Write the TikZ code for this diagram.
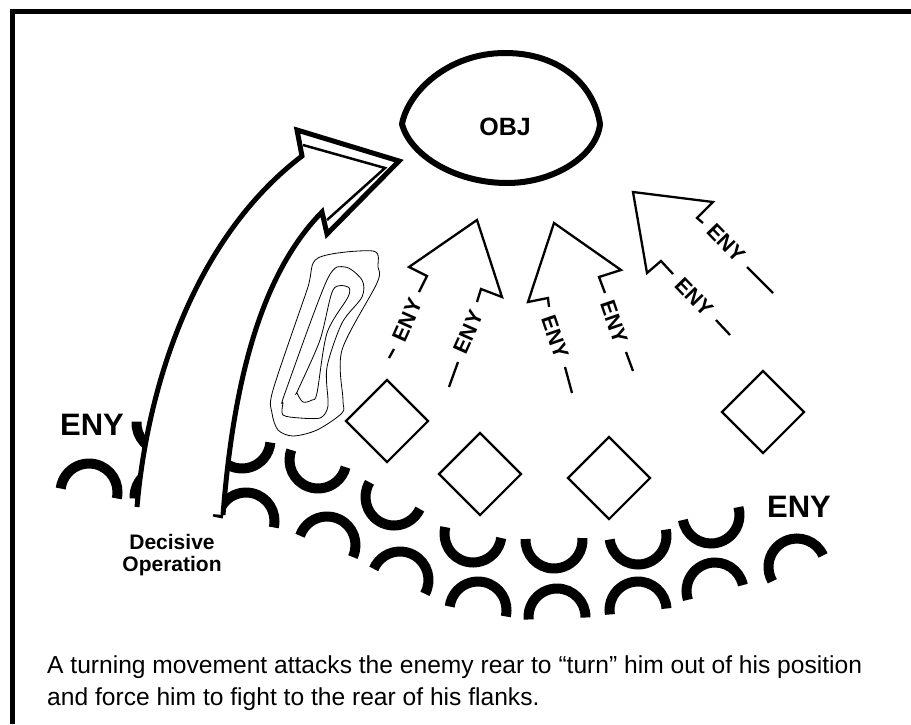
\documentclass[tikz,border=0pt]{standalone}
\usepackage{fontspec}
\setmainfont{Liberation Sans}
\usepackage{tikz}
\usetikzlibrary{positioning}
\usetikzlibrary{shapes.geometric}

\tikzset{
    enyline/.style={draw=black, line width=10pt, line cap=butt},
    enyarc/.pic={\draw[enyline, x=1pt, y=1pt] (-3:28.5) arc[start angle=-3, end angle=183, radius=28.5];},
    enyword/.style={font=\bfseries\fontsize{31}{31}\selectfont, inner sep=0pt},
    enylabel/.style={font=\bfseries\fontsize{21.5}{21.5}\selectfont, inner sep=0pt},
    position/.style={diamond, draw=black, line width=2.2pt, minimum width=83pt, minimum height=83pt, inner sep=0pt, on grid},
    thrust/.style={draw=black, line width=2.3pt, line join=miter},
    contour/.style={draw=black, line width=0.8pt},
}

\begin{document}
\begin{tikzpicture}[x=1pt, y=-1pt]
    \useasboundingbox (0,0) rectangle (911,724);

    % Define frame
    \draw[line width=5pt] (12.5,724) -- (12.5,11) -- (911,11);

    % Define enemy arcs
    \pic[rotate=-10] at (89,492) {enyarc};
    \pic[rotate=180] at (165,423) {enyarc};
    \pic at (163,497) {enyarc};
    \pic[rotate=172] at (242,440) {enyarc};
    \pic[rotate=-10] at (246,521) {enyarc};
    \pic[rotate=162.5] at (318,460) {enyarc};
    \pic[rotate=-22] at (327,545) {enyarc};
    \pic[rotate=152] at (394,497) {enyarc};
    \pic[rotate=-26] at (400,580) {enyarc};
    \pic[rotate=169] at (473,534) {enyarc};
    \pic[rotate=-10] at (478,610) {enyarc};
    \pic[rotate=181] at (554,540) {enyarc};
    \pic[rotate=2] at (557,617) {enyarc};
    \pic[rotate=190] at (638,536) {enyarc};
    \pic[rotate=6] at (638,610) {enyarc};
    \pic[rotate=193] at (711,515) {enyarc};
    \pic[rotate=15] at (715,591) {enyarc};
    \pic[rotate=27] at (797,567) {enyarc};

    % Decisive operation arrow
    \draw[fill=white, line width=5pt, line join=miter]
        (137,507) .. controls (147,390) and (192,240) .. (302,156)
        -- (297,130) -- (399,161) -- (327,234) -- (322,212)
        .. controls (255,280) and (232,400) .. (223,515);
    \draw[line width=2.5pt, line join=miter] (303,145) -- (385,168) -- (327,220);

    % Objective
    \node[font=\bfseries\fontsize{25}{25}\selectfont, inner sep=0pt] (obj) at (505,127) {OBJ};
    \draw[line width=6pt] (402,124) .. controls (408,92) and (448,53) .. (505,53)
        .. controls (560,53) and (594,85) .. (600,124)
        .. controls (597,155) and (555,183) .. (507,183)
        .. controls (455,183) and (410,155) .. (402,124) -- cycle;

    % Hill contours
    \draw[contour] plot[smooth cycle, tension=0.5] coordinates {
        (318,258) (373,251) (378,267) (377,283) (342,350) (343,400) (342,413)
        (317,430) (293,436) (278,430) (272,413) (273,390) (307,290)};
    \draw[contour] plot[smooth cycle, tension=0.5] coordinates {
        (327,280) (345,267) (362,280) (362,297) (342,323) (327,367) (328,400)
        (327,410) (320,418) (300,418) (283,415) (283,403) (285,393)};
    \draw[contour] plot[smooth cycle, tension=0.5] coordinates {
        (333,290) (348,287) (348,297) (327,333) (317,393) (312,400)
        (303,402) (297,393) (298,390) (320,340)};

    % Define positions
    \node[position] (pos1) at (387,421) {};
    \node[position, below right = 53pt and 93pt of pos1] (pos2) {};
    \node[position, right = 129pt of pos2, yshift=-4pt] (pos3) {};
    \node[position, above right = 66pt and 154pt of pos3] (pos4) {};

    % Enemy arrows
    \draw[thrust] (419,292) -- (427,276) -- (409,267) -- (477,220) -- (502,297) -- (481,289) -- (477,302);
    \draw[thrust] (549,307) -- (548,298) -- (528,302) -- (554,223) -- (621,270) -- (599,277) -- (605,293);
    \draw[thrust] (673,274) -- (661,261) -- (647,273) -- (633,192) -- (713,202) -- (697,218) -- (703,223);

    % Enemy labels
    \node[enylabel, rotate=66] (eny1) at (407,320) {ENY};
    \node[enylabel, rotate=66] (eny2) at (468,332) {ENY};
    \node[enylabel, rotate=-71] (eny3) at (555,337) {ENY};
    \node[enylabel, rotate=-71] (eny4) at (614,322) {ENY};
    \node[enylabel, rotate=-46] (eny5) at (694,297) {ENY};
    \node[enylabel, rotate=-46] (eny6) at (726,243) {ENY};

    % Enemy tails
    \draw[thrust] (394,349) -- (389,358);
    \draw[thrust] (458,362) -- (449,387);
    \draw[thrust] (565,367) -- (572,393);
    \draw[thrust] (626,352) -- (633,371);
    \draw[thrust] (716,320) -- (730,335);
    \draw[thrust] (747,267) -- (773,293);

    % Add labels
    \node[enyword] (enyleft) at (92,425) {ENY};
    \node[enyword] (enyright) at (799,507) {ENY};
    \node[font=\bfseries\fontsize{21}{22}\selectfont, align=center, inner sep=0pt] (decisive) at (172,555) {Decisive\\Operation};
    \node[font=\fontsize{24.6}{32.5}\selectfont, align=left, inner sep=0pt, anchor=north west] (caption) at (47,655)
        {A turning movement attacks the enemy rear to “turn” him out of his position\\and force him to fight to the rear of his flanks.};
\end{tikzpicture}
\end{document}
